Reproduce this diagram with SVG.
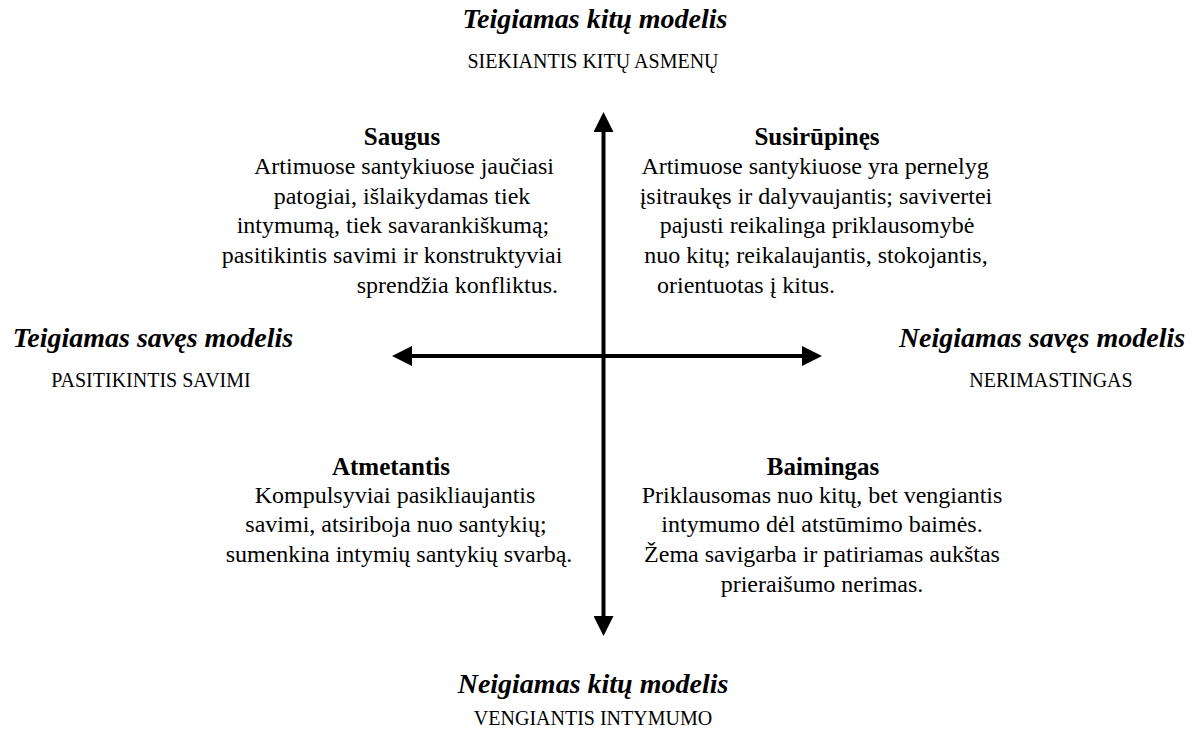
<svg xmlns="http://www.w3.org/2000/svg" width="1202" height="742" viewBox="0 0 1202 742">
<style>
text{font-family:"Liberation Serif","Times New Roman",serif;fill:#000}
.ax{font-size:28px;font-weight:bold;font-style:italic;text-anchor:middle}
.sub{font-size:20px;text-anchor:middle}
.hd{font-size:25px;font-weight:bold;text-anchor:middle}
.bd{font-size:24px;text-anchor:middle}
.ln{stroke:#000;stroke-width:4;fill:none}
</style>
<defs>
<marker id="ah" markerUnits="userSpaceOnUse" markerWidth="20" markerHeight="20" refX="0" refY="10" orient="auto-start-reverse" viewBox="0 0 20 20">
<path d="M0,0 L20,10 L0,20 z" fill="#000"/>
</marker>
</defs>
<rect width="1202" height="742" fill="#fff"/>
<g id="connectors">
<line class="ln" x1="603.5" y1="132" x2="603.5" y2="616" marker-start="url(#ah)" marker-end="url(#ah)"/>
<line class="ln" x1="412" y1="356" x2="802" y2="356" marker-start="url(#ah)" marker-end="url(#ah)"/>
</g>
<g id="top-axis">
<text class="ax" x="595" y="28">Teigiamas kitų modelis</text>
<text class="sub" x="593" y="68">SIEKIANTIS KITŲ ASMENŲ</text>
</g>
<g id="bottom-axis">
<text class="ax" x="593" y="693">Neigiamas kitų modelis</text>
<text class="sub" x="593" y="725">VENGIANTIS INTYMUMO</text>
</g>
<g id="left-axis">
<text class="ax" x="153" y="347">Teigiamas savęs modelis</text>
<text class="sub" x="151" y="387">PASITIKINTIS SAVIMI</text>
</g>
<g id="right-axis">
<text class="ax" x="1042" y="347">Neigiamas savęs modelis</text>
<text class="sub" x="1051" y="387">NERIMASTINGAS</text>
</g>
<g id="saugus">
<text class="hd" x="402" y="145">Saugus</text>
<text class="bd" x="404" y="174">Artimuose santykiuose jaučiasi</text>
<text class="bd" x="402" y="204">patogiai, išlaikydamas tiek</text>
<text class="bd" x="393" y="233">intymumą, tiek savarankiškumą;</text>
<text class="bd" x="392" y="263">pasitikintis savimi ir konstruktyviai</text>
<text class="bd" x="558" y="293" style="text-anchor:end">sprendžia konfliktus.</text>
</g>
<g id="susirupines">
<text class="hd" x="817" y="145">Susirūpinęs</text>
<text class="bd" x="815" y="174">Artimuose santykiuose yra pernelyg</text>
<text class="bd" x="816" y="204">įsitraukęs ir dalyvaujantis; savivertei</text>
<text class="bd" x="817" y="233">pajusti reikalinga priklausomybė</text>
<text class="bd" x="816" y="263">nuo kitų; reikalaujantis, stokojantis,</text>
<text class="bd" x="657" y="293" style="text-anchor:start">orientuotas į kitus.</text>
</g>
<g id="atmetantis">
<text class="hd" x="391" y="475">Atmetantis</text>
<text class="bd" x="395" y="503">Kompulsyviai pasikliaujantis</text>
<text class="bd" x="396" y="532">savimi, atsiriboja nuo santykių;</text>
<text class="bd" x="399" y="562">sumenkina intymių santykių svarbą.</text>
</g>
<g id="baimingas">
<text class="hd" x="823" y="475">Baimingas</text>
<text class="bd" x="822" y="503">Priklausomas nuo kitų, bet vengiantis</text>
<text class="bd" x="822" y="532">intymumo dėl atstūmimo baimės.</text>
<text class="bd" x="822" y="562">Žema savigarba ir patiriamas aukštas</text>
<text class="bd" x="822" y="592">prieraišumo nerimas.</text>
</g>
</svg>
